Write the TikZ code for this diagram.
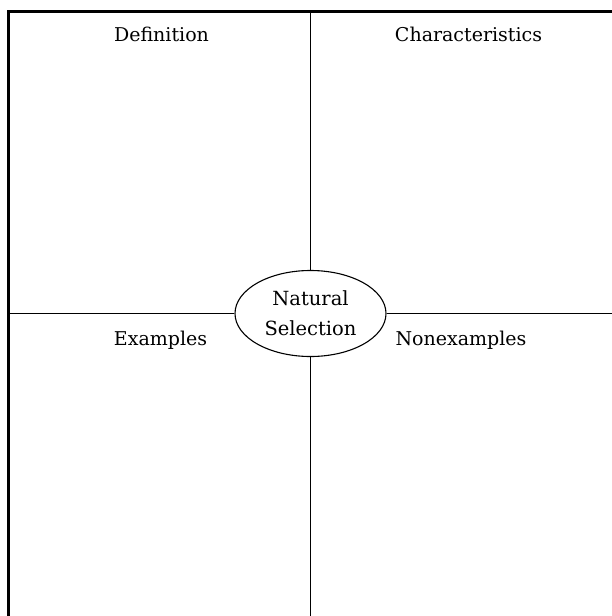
\documentclass[tikz,border=0pt]{standalone}
\usepackage{fontspec}
\setmainfont{DejaVu Serif}
\usetikzlibrary{shapes.geometric}

\tikzset{
  word/.style={inner sep=0pt, anchor=base, font=\fontsize{19pt}{30pt}\selectfont},
  divider/.style={line width=1.1pt},
}

\begin{document}
\begin{tikzpicture}[x=1pt,y=-1pt]

\useasboundingbox (0,0) rectangle (612,616);
\clip (0,0) rectangle (612,616);

% Frame
\draw[line width=2.6pt] (8.7,640) -- (8.7,11.2) -- (640,11.2);

% Centre
\node[draw=black,ellipse,line width=1.1pt,fill=white,minimum width=151pt,minimum height=86pt,inner sep=0pt,
      align=center,font=\fontsize{19.5pt}{30pt}\selectfont](topic) at (310.5,313.5){Natural\\Selection};

% Dividers
\coordinate (top) at (310.5,11.2);
\coordinate (bottom) at (310.5,640);
\coordinate (left) at (8.7,313.5);
\coordinate (right) at (640,313.5);
\draw[divider] (top) -- (topic.north);
\draw[divider] (topic.south) -- (bottom);
\draw[divider] (left) -- (topic.west);
\draw[divider] (topic.east) -- (right);

% Quadrant labels
\node[word](def) at (161.5,41){Definition};
\node[word](char) at (468.5,41){Characteristics};
\node[word](ex) at (160.5,345){Examples};
\node[word](nonex) at (461,345){Nonexamples};

\end{tikzpicture}
\end{document}
